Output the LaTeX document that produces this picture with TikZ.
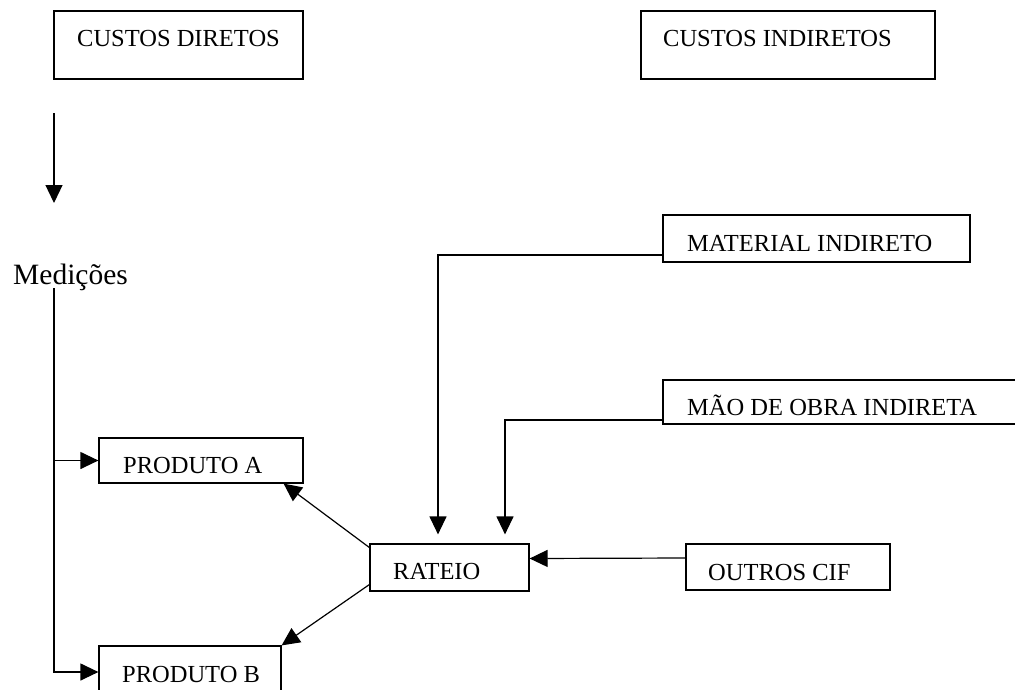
\documentclass[tikz,border=0pt]{standalone}
\usepackage{fontspec}
\setmainfont{Liberation Serif}
\usetikzlibrary{arrows.meta}

\tikzset{
  box/.style={draw, line width=1.2pt, inner sep=0pt},
  lbl/.style={anchor=base west, inner sep=0pt, font=\fontsize{24.5}{29}\selectfont},
  arr/.style={line width=1.2pt, -{Triangle[length=18pt,width=17pt]}},
  con/.style={line width=1.2pt}
}

\begin{document}
\begin{tikzpicture}[x=1pt, y=-1pt]
\useasboundingbox (0,0) rectangle (1015,689);
\clip (0,0) rectangle (1015,689);

 % top boxes
\node[box, minimum width=249pt, minimum height=68pt] (cd) at (178.5,45) {};
\node[lbl] (cdt) at (77,46) {CUSTOS DIRETOS};
\node[box, minimum width=294pt, minimum height=68pt] (ci) at (788,45) {};
\node[lbl] (cit) at (663,46) {CUSTOS INDIRETOS};

 % direct side
\coordinate (dtop) at (54,113);
\coordinate (dbot) at (54,203);
\draw[arr] (dtop) -- (dbot);
\node[lbl, font=\fontsize{29.5}{35}\selectfont] (med) at (13,284) {Medições};
\coordinate (trunk) at (54,288);

\node[box, minimum width=204pt, minimum height=45pt] (pa) at (201,460.5) {};
\node[lbl] (pat) at (123,473) {PRODUTO A};
\node[box, minimum width=182pt, minimum height=45pt] (pb) at (190,668.5) {};
\node[lbl] (pbt) at (122,682) {PRODUTO B};

\draw[arr] (trunk) |- ([yshift=-3.5pt]pb.west);
\draw[arr] (trunk |- pa.west) -- (pa.west);

 % indirect side
\node[box, minimum width=307pt, minimum height=47pt] (mat) at (816.5,238.5) {};
\node[lbl] (matt) at (687,251) {MATERIAL INDIRETO};
\node[box, minimum width=362pt, minimum height=44pt] (mao) at (844,402) {};
\node[lbl] (maot) at (687,415) {MÃO DE OBRA INDIRETA};
\node[box, minimum width=204pt, minimum height=46pt] (out) at (788,567) {};
\node[lbl] (outt) at (708,580) {OUTROS CIF};

\node[box, minimum width=159pt, minimum height=47pt] (rat) at (449.5,567.5) {};
\node[lbl] (ratt) at (393,579) {RATEIO};

\draw[arr] ([yshift=-16.5pt]mat.west) -| ([xshift=-11.5pt,yshift=9pt]rat.north);
\draw[arr] ([yshift=-18pt]mao.west) -| ([xshift=55.5pt,yshift=9pt]rat.north);
\draw[arr] ([yshift=9pt]out.west) -- ([yshift=9pt]rat.east);

%\draw[arr] (rat.west) -- (pa.east);
\draw[arr] (rat.166) -- ([xshift=-20pt]pa.south east);
\draw[arr] (rat.192) -- (pb.north east);
\end{tikzpicture}
\end{document}
